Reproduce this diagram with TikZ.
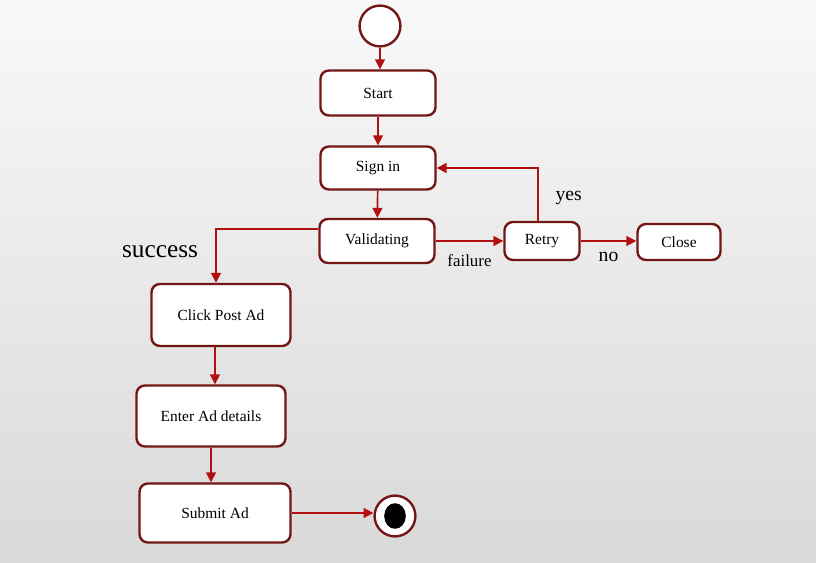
\documentclass[tikz,border=0pt]{standalone}
\usepackage{fontspec}
\setmainfont{Liberation Serif}
\usetikzlibrary{arrows.meta}
\definecolor{boxred}{RGB}{115,22,22}
\definecolor{arrowred}{RGB}{178,16,16}

\begin{document}
\begin{tikzpicture}[x=0.025cm,y=-0.025cm,
    state/.style={rectangle,rounded corners=6pt,draw=boxred,line width=1.7pt,fill=white,font=\fontsize{11}{13}\selectfont},
    flow/.style={-{Triangle[length=7pt,width=7pt]},draw=arrowred,line width=1.2pt},
    lbl/.style={font=\fontsize{12}{14}\selectfont}]

    \shade[top color=gray!5,bottom color=gray!30] (0,0) rectangle (816,563);

    \node[circle,draw=boxred,line width=1.7pt,fill=white,minimum size=1.02cm] (init) at (380, 26) {};
    \node[state,minimum width=2.875cm,minimum height=1.125cm] (start)  at (378, 93)  {Start};
    \node[state,minimum width=2.875cm,minimum height=1.075cm] (signin) at (378, 168) {Sign in};
    \node[state,minimum width=2.875cm,minimum height=1.1cm]   (valid)  at (377, 241) {Validating};
    \node[state,minimum width=1.875cm,minimum height=0.95cm]  (retry)  at (542, 241) {Retry};
    \node[state,minimum width=2.075cm,minimum height=0.9cm]   (close)  at (679, 242) {Close};
    \node[state,minimum width=3.475cm,minimum height=1.55cm]  (click)  at (221, 315) {Click Post Ad};
    \node[state,minimum width=3.725cm,minimum height=1.525cm] (enter)  at (211, 416) {Enter Ad details};
    \node[state,minimum width=3.775cm,minimum height=1.475cm] (submit) at (215, 513) {Submit Ad};
    \node[circle,draw=boxred,line width=1.7pt,fill=white,minimum size=1.02cm] (final) at (395, 516) {};
    \fill[black] (final) ellipse [x radius=0.27cm, y radius=0.32cm];

    \node[font=\fontsize{18}{20}\selectfont] (succ) at (160, 252) {success};

    \draw[flow] (init.south) -- (init.south |- start.north);
    \draw[flow] (start) -- (signin);
    \draw[flow] (signin) -- (valid);
    \draw[flow] ([yshift=0.3cm]valid.west) -| ([xshift=-0.125cm]click.north);
    \draw[flow] (valid) -- node[lbl,below=0.2cm] {failure} (retry);
    \draw[flow] ([xshift=-0.1cm]retry.north) |- node[lbl,font=\fontsize{14}{16}\selectfont,pos=0.22,right=0.3cm] {yes} (signin.east);
    \draw[flow] (retry.east) -- (retry.east -| close.west) node[lbl,font=\fontsize{14}{16}\selectfont,midway,below=0.15cm] {no};
    \draw[flow] ([xshift=-0.15cm]click.south) -- ([xshift=0.1cm]enter.north);
    \draw[flow] (enter.south) -- (enter.south |- submit.north);
    \draw[flow] (submit.east) -- (submit.east -| final.west);
  \end{tikzpicture}
\end{document}
